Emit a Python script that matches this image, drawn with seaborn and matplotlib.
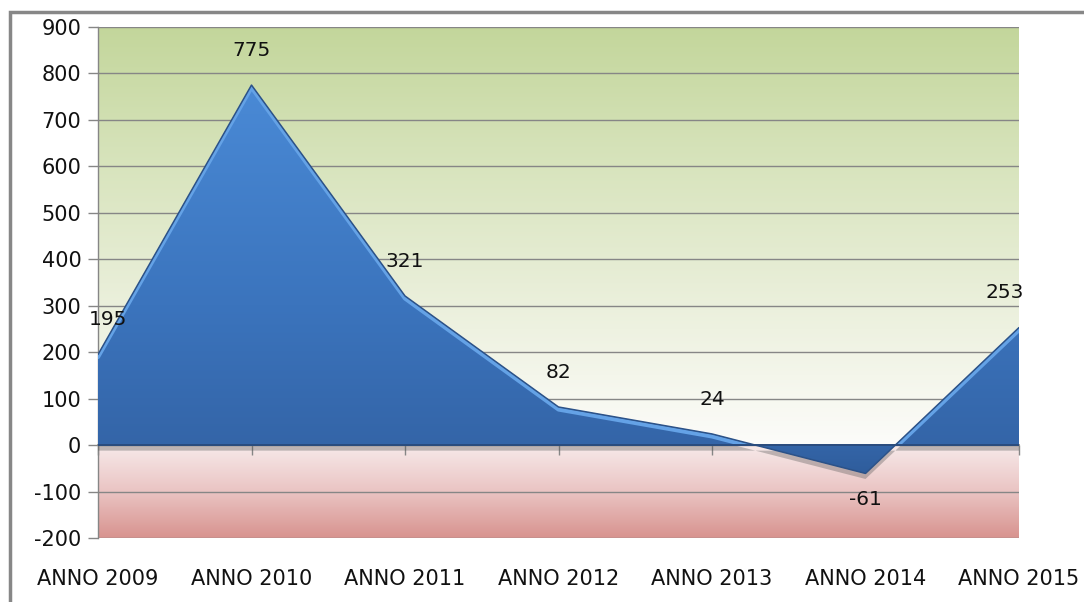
import numpy as np
import pandas as pd
import matplotlib
matplotlib.use("Agg")
import matplotlib.pyplot as plt
import seaborn as sns
from matplotlib.patches import Rectangle
from matplotlib.colors import to_rgb
import matplotlib.patheffects as pe
import matplotlib.transforms as mtransforms

# ---- data ----
categories = ["ANNO 2009", "ANNO 2010", "ANNO 2011", "ANNO 2012", "ANNO 2013", "ANNO 2014", "ANNO 2015"]
values = [195, 775, 321, 82, 24, -61, 253]
y_ticks = [-200, -100, 0, 100, 200, 300, 400, 500, 600, 700, 800, 900]

df = pd.DataFrame({"pos": np.arange(len(categories)), "value": values, "cat": categories})

sns.set_theme(style="white")
plt.rcParams["font.family"] = ["DejaVu Sans"]
plt.rcParams["axes.unicode_minus"] = False

W, H = 1084, 602
fig = plt.figure(figsize=(W / 100, H / 100), dpi=100)
fig.patch.set_facecolor("white")
ax = fig.add_axes([98 / W, 1 - 538 / H, (1019 - 98) / W, (538 - 27) / H])

ymin, ymax = y_ticks[0], y_ticks[-1]
ax.set_xlim(0, len(categories) - 1)
ax.set_ylim(ymin, ymax)

# ---- background gradient ----
stops = [
    (-200, "#d8938f"),
    (-100, "#eac4c3"),
    (-2, "#f7e9e9"),
    (2, "#fcfcfa"),
    (100, "#f7f8f0"),
    (300, "#ebf0dc"),
    (600, "#d8e4bd"),
    (900, "#c3d69b"),
]
yy = np.linspace(ymin, ymax, 1100)
sv = [s[0] for s in stops]
cols = np.array([to_rgb(s[1]) for s in stops])
grad = np.stack([np.interp(yy, sv, cols[:, k]) for k in range(3)], axis=-1)[:, None, :]
ax.imshow(grad, extent=(0, len(categories) - 1, ymin, ymax), origin="lower",
          aspect="auto", zorder=0, interpolation="bilinear")

# ---- grid ----
ax.set_yticks(y_ticks)
for yt in y_ticks:
    ax.axhline(yt, color="#868686", linewidth=1.0, zorder=1)

# ---- area ----
poly = ax.fill_between(df["pos"], df["value"], 0, facecolor="#3a6fb6", edgecolor="none", zorder=3,
                       path_effects=[pe.SimplePatchShadow(offset=(0, -4), shadow_rgbFace="#555555", alpha=0.35),
                                     pe.Normal()])
clip_path = poly.get_paths()[0]
area_stops = [(-61, "#2f5d9c"), (0, "#3465a8"), (300, "#3b74bd"), (775, "#4a8ad6")]
av = [s[0] for s in area_stops]
acols = np.array([to_rgb(s[1]) for s in area_stops])
yy2 = np.linspace(-61, 775, 600)
agrad = np.stack([np.interp(yy2, av, acols[:, k]) for k in range(3)], axis=-1)[:, None, :]
im = ax.imshow(agrad, extent=(0, len(categories) - 1, -61, 775), origin="lower",
               aspect="auto", zorder=4, interpolation="bilinear")
im.set_clip_path(clip_path, transform=ax.transData)

# bevel highlight just inside the top edge (clipped to area)
sns.lineplot(data=df, x="pos", y="value", ax=ax, color="#64a2e6", linewidth=3.0, zorder=5, legend=False)
hl = ax.lines[-1]
hl.set_transform(hl.get_transform() + mtransforms.ScaledTranslation(0, -2.5 / 100, fig.dpi_scale_trans))
hl.set_clip_path(clip_path, transform=ax.transData)
# dark outline
sns.lineplot(data=df, x="pos", y="value", ax=ax, color="#2c5288", linewidth=1.1, zorder=6, legend=False)
ax.axhline(0, color="#2a4c7e", linewidth=1.4, zorder=6)

# ---- value labels ----
n = len(values)
for i, v in enumerate(values):
    dx = 7 if i == 0 else (-10 if i == n - 1 else 0)
    dy = 25 if v >= 0 else -19
    ax.annotate(f"{v}", (i, v), xytext=(dx, dy), textcoords="offset points",
                ha="center", va="center", fontsize=14.5, color="#111111", zorder=10)

# ---- axes styling ----
for s in ["top", "right"]:
    ax.spines[s].set_visible(False)
ax.spines["left"].set_color("#868686")
ax.spines["left"].set_linewidth(1.0)
ax.spines["bottom"].set_position(("data", 0))
ax.spines["bottom"].set_color("#868686")
ax.spines["bottom"].set_zorder(2)

ax.set_xticks(df["pos"])
ax.set_xticklabels(categories)
ax.tick_params(axis="x", direction="out", length=7, color="#868686", width=1, pad=82,
               labelsize=15, labelcolor="#111111")
ax.tick_params(axis="y", direction="out", length=7, color="#868686", width=1, pad=5,
               labelsize=15, labelcolor="#111111")
ax.xaxis.set_ticks_position("bottom")
ax.yaxis.set_ticks_position("left")
ax.set_xlabel("")
ax.set_ylabel("")

# ---- outer chart border ----
fig.patches.append(Rectangle((10 / W, -0.2), 1.5, 1.2 - 12 / H, transform=fig.transFigure,
                             fill=False, edgecolor="#878787", linewidth=2.5, zorder=0))

fig.savefig("out.png", dpi=100, facecolor="white")
